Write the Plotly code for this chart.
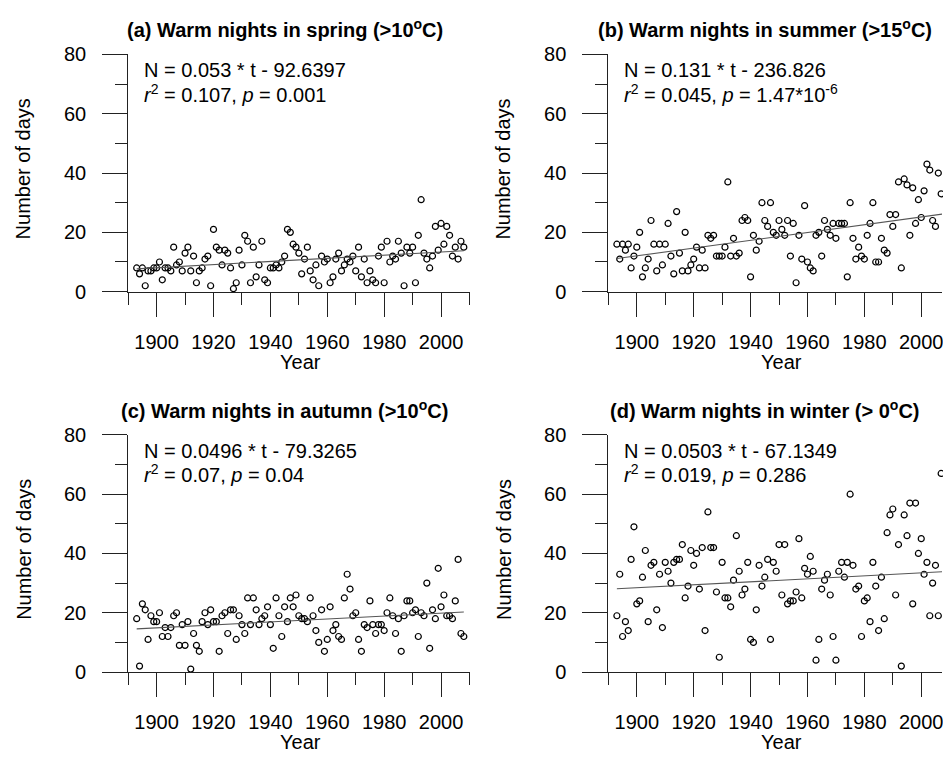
import plotly.graph_objects as go

years = list(range(1893, 2009))

spring = [8, 6, 8, 2, 7, 7, 8, 8, 10, 4, 8, 8, 7, 15, 9, 10, 7, 13, 15, 7,
          12, 3, 7, 8, 11, 12, 2, 21, 15, 14, 9, 14, 13, 8, 1, 3, 14, 9, 19, 17,
          3, 15, 5, 9, 17, 4, 3, 8, 8, 9, 8, 10, 12, 21, 20, 16, 15, 13, 6, 11,
          15, 7, 4, 9, 2, 12, 10, 11, 3, 5, 11, 13, 7, 9, 11, 10, 12, 7, 15, 5,
          11, 3, 7, 4, 3, 12, 15, 3, 17, 10, 12, 11, 17, 13, 2, 15, 13, 15, 3, 19,
          31, 13, 11, 8, 12, 22, 14, 23, 16, 22, 19, 12, 15, 11, 17, 15]

summer = [16, 11, 16, 14, 16, 8, 12, 15, 20, 5, 8, 11, 24, 16, 7, 16, 9, 16, 23, 12,
          6, 27, 13, 7, 20, 7, 9, 11, 15, 8, 14, 8, 19, 18, 19, 12, 12, 12, 15, 37,
          12, 18, 12, 13, 24, 25, 24, 5, 19, 14, 17, 30, 24, 22, 30, 20, 19, 24, 21, 19,
          24, 12, 23, 3, 19, 11, 29, 10, 8, 7, 19, 20, 12, 24, 21, 19, 23, 18, 23, 23,
          23, 5, 30, 18, 11, 15, 12, 11, 19, 23, 30, 10, 10, 18, 14, 13, 26, 22, 26, 37,
          8, 38, 36, 19, 35, 23, 31, 25, 34, 43, 41, 24, 22, 40, 33, 30]

autumn = [18, 2, 23, 21, 11, 19, 17, 17, 20, 12, 15, 12, 15, 19, 20, 9, 16, 9, 17, 1,
          13, 9, 7, 17, 20, 16, 21, 17, 17, 7, 19, 20, 13, 21, 21, 11, 19, 16, 13, 25,
          16, 25, 21, 16, 18, 19, 22, 16, 8, 25, 19, 12, 22, 17, 25, 22, 26, 19, 18, 18,
          17, 25, 19, 14, 10, 21, 7, 11, 22, 14, 16, 12, 11, 25, 33, 28, 19, 20, 11, 7,
          16, 15, 24, 16, 13, 16, 16, 14, 20, 25, 19, 13, 18, 7, 19, 24, 24, 20, 21, 12,
          20, 19, 30, 8, 21, 18, 35, 22, 26, 19, 19, 18, 24, 38, 13, 12]

winter = [19, 33, 12, 17, 14, 38, 49, 23, 24, 32, 41, 17, 36, 37, 21, 33, 15, 37, 34, 30,
          37, 38, 38, 43, 25, 29, 41, 36, 40, 28, 42, 14, 54, 42, 42, 27, 5, 37, 25, 25,
          22, 31, 46, 34, 26, 28, 37, 11, 10, 21, 36, 29, 32, 38, 11, 37, 34, 43, 26, 43,
          23, 24, 24, 27, 45, 25, 35, 33, 39, 34, 4, 11, 28, 31, 33, 26, 12, 4, 34, 37,
          32, 37, 60, 36, 28, 29, 12, 24, 25, 17, 37, 29, 14, 32, 18, 47, 53, 55, 26, 43,
          2, 53, 46, 57, 23, 57, 40, 45, 33, 37, 19, 30, 36, 19, 67, 56]

series = [spring, summer, autumn, winter]

titles = ["(a) Warm nights in spring (>10<sup>o</sup>C)",
          "(b) Warm nights in summer (>15<sup>o</sup>C)",
          "(c) Warm nights in autumn (>10<sup>o</sup>C)",
          "(d) Warm nights in winter (> 0<sup>o</sup>C)"]
eq_texts = ["N = 0.053 * t - 92.6397",
            "N = 0.131 * t - 236.826",
            "N = 0.0496 * t - 79.3265",
            "N = 0.0503 * t - 67.1349"]
stat_texts = ["<i>r</i><sup>2</sup> = 0.107, <i>p</i> = 0.001",
              "<i>r</i><sup>2</sup> = 0.045, <i>p</i> = 1.47*10<sup>-6</sup>",
              "<i>r</i><sup>2</sup> = 0.07, <i>p</i> = 0.04",
              "<i>r</i><sup>2</sup> = 0.019, <i>p</i> = 0.286"]
slopes = [0.053, 0.131, 0.0496, 0.0503]
intercepts = [-92.6397, -236.826, -79.3265, -67.1349]

x_tick_vals = [1900, 1920, 1940, 1960, 1980, 2000]
y_tick_vals = [0, 20, 40, 60, 80]
y_title = "Number of days"
x_title = "Year"

W, H = 943, 762
FONT = "Liberation Sans, Arial, Helvetica, sans-serif"
PPY = (470 - 128.3) / 120.0  # pixels per year

def fx(p):
    return p / W

def fy(p):
    return 1 - p / H

# pixel frames: left, right, top(80), bottom(0)
frames = [(128.3, 470.0, 44.7, 289.0),
          (609.0, 943.0, 44.7, 289.0),
          (128.3, 470.0, 436.5, 680.7),
          (609.0, 943.0, 436.5, 680.7)]

fig = go.Figure()
layout = dict(width=W, height=H, margin=dict(l=0, r=0, t=0, b=0),
              plot_bgcolor="white", paper_bgcolor="white", showlegend=False,
              font=dict(family=FONT, size=20, color="black"))
annotations = []

for i, (L, R, T, B) in enumerate(frames):
    n = "" if i == 0 else str(i + 1)
    xr = [1890, 1890 + (R - L) / PPY]
    xa = dict(domain=[fx(L), fx(R)], range=xr, anchor="y" + n,
              showline=True, linecolor="#222", linewidth=1, mirror=False,
              ticks="outside", ticklen=24, tickwidth=1, tickcolor="#222",
              tickvals=x_tick_vals, ticktext=[str(v) for v in x_tick_vals],
              tickfont=dict(size=20, family=FONT, color="black"),
              ticklabelstandoff=8, ticklabeloverflow="allow",
              minor=dict(tickvals=list(range(1890, 2011, 10)), ticklen=12, ticks="outside",
                         tickwidth=1, tickcolor="#222", showgrid=False),
              showgrid=False, zeroline=False, fixedrange=True)
    ya = dict(domain=[fy(B), fy(T)], range=[0, 80], anchor="x" + n,
              showline=True, linecolor="#222", linewidth=1,
              ticks="outside", ticklen=25, tickwidth=1, tickcolor="#222",
              tickvals=y_tick_vals, ticktext=[str(v) for v in y_tick_vals],
              tickfont=dict(size=20, family=FONT, color="black"),
              ticklabelstandoff=12, ticklabeloverflow="allow",
              minor=dict(tickvals=list(range(0, 81, 10)), ticklen=12, ticks="outside",
                         tickwidth=1, tickcolor="#222", showgrid=False),
              showgrid=False, zeroline=False, fixedrange=True)
    layout["xaxis" + n] = xa
    layout["yaxis" + n] = ya

    fig.add_trace(go.Scatter(x=years, y=series[i], mode="markers",
                             xaxis="x" + n, yaxis="y" + n, cliponaxis=False,
                             marker=dict(symbol="circle-open", size=6, color="black",
                                         line=dict(width=1.2, color="black"))))
    tx = [years[0], years[-1]]
    ty = [slopes[i] * t + intercepts[i] for t in tx]
    fig.add_trace(go.Scatter(x=tx, y=ty, mode="lines", xaxis="x" + n, yaxis="y" + n,
                             cliponaxis=False, line=dict(color="#555", width=1.1)))

    cx = (L + (L + 120 * PPY)) / 2
    annotations.append(dict(text="<b>" + titles[i] + "</b>", xref="paper", yref="paper",
                            x=fx(cx - 14), y=fy(T - 26.4), xanchor="center", yanchor="middle",
                            showarrow=False, font=dict(size=20, family=FONT)))
    annotations.append(dict(text=eq_texts[i], xref="paper", yref="paper",
                            x=fx(L + 13.5), y=fy(T + 16.5), xanchor="left", yanchor="middle",
                            showarrow=False, font=dict(size=20, family=FONT)))
    annotations.append(dict(text=stat_texts[i], xref="paper", yref="paper",
                            x=fx(L + 13.5), y=fy(T + 40), xanchor="left", yanchor="middle",
                            showarrow=False, font=dict(size=20, family=FONT)))
    annotations.append(dict(text=y_title, xref="paper", yref="paper", textangle=-90,
                            x=fx(L - 105), y=fy((T + B) / 2 - 4), xanchor="center", yanchor="middle",
                            showarrow=False, font=dict(size=20, family=FONT)))
    annotations.append(dict(text=x_title, xref="paper", yref="paper",
                            x=fx(cx + 2), y=fy(B + 72), xanchor="center", yanchor="middle",
                            showarrow=False, font=dict(size=20, family=FONT)))

layout["annotations"] = annotations
fig.update_layout(**layout)
fig.write_html("out.html")
